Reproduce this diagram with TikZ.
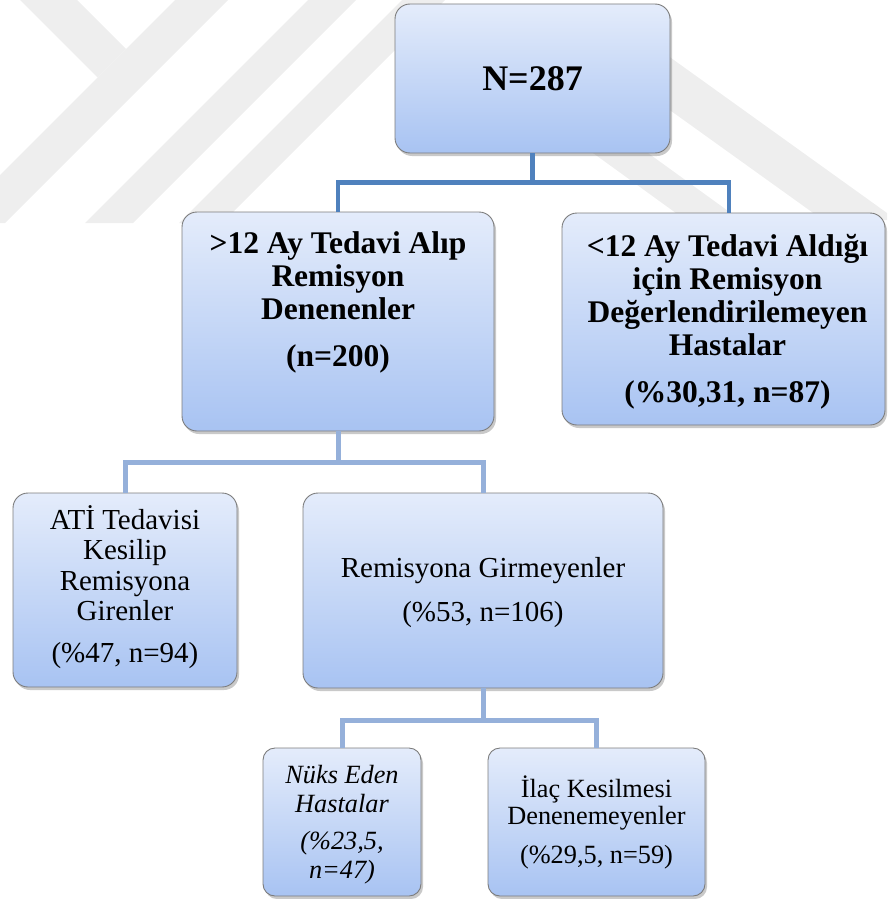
\documentclass[tikz,border=0pt]{standalone}
\usepackage{fontspec}
\setmainfont{Liberation Serif}
\usetikzlibrary{positioning,shadows}
\definecolor{wmGrey}{HTML}{EEEEEE}
\definecolor{bxTop}{HTML}{E4ECFB}
\definecolor{bxBot}{HTML}{A8C3F2}
\definecolor{bxEdge}{HTML}{7C7C7C}
\definecolor{lnDark}{HTML}{4F81BD}
\definecolor{lnLight}{HTML}{95B0DA}
\tikzset{
  bx/.style={draw=bxEdge, line width=0.9pt, top color=bxTop, bottom color=bxBot, rounded corners=15pt, inner sep=0pt,
    drop shadow={shadow xshift=2pt, shadow yshift=-3pt, opacity=0.3, fill=black!70}},
  txtB/.style={font=\fontsize{31.5}{33}\selectfont\bfseries, align=center, inner sep=0pt},
  txtR/.style={font=\fontsize{29}{30.3}\selectfont, align=center, inner sep=0pt},
  txtS/.style={font=\fontsize{26.3}{27.5}\selectfont, align=center, inner sep=0pt},
  txtI/.style={font=\fontsize{26.3}{28.7}\selectfont\itshape, align=center, inner sep=0pt},
  cnA/.style={draw=lnDark, line width=4.5pt},
  cnB/.style={draw=lnLight, line width=5pt},
}
\begin{document}
\begin{tikzpicture}[x=1pt, y=-1pt]
  \useasboundingbox (0,0) rectangle (887,899);
  % faint watermark behind the chart
  \fill[wmGrey] (20,0) -- (77,0) -- (126,49) -- (97.5,77.5) -- cycle;
  \fill[wmGrey] (175,0) -- (228,0) -- (5,223) -- (0,223) -- (0,175) -- cycle;
  \fill[wmGrey] (308,0) -- (356,0) -- (133,223) -- (85,223) -- cycle;
  \fill[wmGrey] (402,0) -- (445,0) -- (222,223) -- (179,223) -- cycle;
  \fill[wmGrey] (600,7) -- (887,213) -- (887,220) -- (823,220) -- (600,60) -- cycle;
  \fill[wmGrey] (575,140) -- (630,140) -- (735,216) -- (680,216) -- cycle;

  % boxes
  \node[bx, minimum width=275pt, minimum height=149pt, font=\fontsize{36}{40}\selectfont\bfseries] (root) at (532.5,78.5) {N=287};

  \node[bx, minimum width=312pt, minimum height=219pt] (lng) at (338,321.5) {};
  \node[txtB, below=20pt of lng.north] (lngT) {>12 Ay Tedavi Alıp\\Remisyon\\Denenenler\\[14pt](n=200)};
  \node[bx, minimum width=323pt, minimum height=212pt] (shrt) at (723.5,319) {};
  \node[txtB, below=22pt of shrt.north, xshift=4pt] (shrtT) {<12 Ay Tedavi Aldığı\\için Remisyon\\Değerlendirilemeyen\\Hastalar\\[14pt](\%30,31, n=87)};

  \node[bx, minimum width=224pt, minimum height=194pt] (ati) at (125,590) {};
  \node[txtR, below=13pt of ati.north] (atiT) {ATİ Tedavisi\\Kesilip\\Remisyona\\Girenler\\[12pt](\%47, n=94)};
  \node[bx, minimum width=360pt, minimum height=195pt] (rem) at (483,590.5) {};
  \node[txtR, below=65pt of rem.north] (remT) {Remisyona Girmeyenler\\[13pt](\%53, n=106)};

  \node[bx, rounded corners=12pt, minimum width=158pt, minimum height=148pt] (nuks) at (342,822) {};
  \node[txtI, below=17.6pt of nuks.north] (nuksT) {Nüks Eden\\Hastalar\\[8.5pt](\%23,5,\\n=47)};
  \node[bx, rounded corners=12pt, minimum width=217pt, minimum height=148pt] (ilac) at (596.5,822) {};
  \node[txtS, below=28pt of ilac.north] (ilacT) {İlaç Kesilmesi\\Denenemeyenler\\[11pt](\%29,5, n=59)};

  % connectors
  \draw[cnA] (root.south) -- ++(0,29) -| (lng.north);
  \draw[cnA] (root.south) -- ++(0,29) -| ([xshift=5.5pt]shrt.north);
  \foreach \v in {ati,rem} \draw[cnB] (lng.south) -- ++(0,31) -| (\v.north);
  \foreach \v in {nuks,ilac} \draw[cnB] (rem.south) -- ++(0,32) -| (\v.north);
\end{tikzpicture}
\end{document}
